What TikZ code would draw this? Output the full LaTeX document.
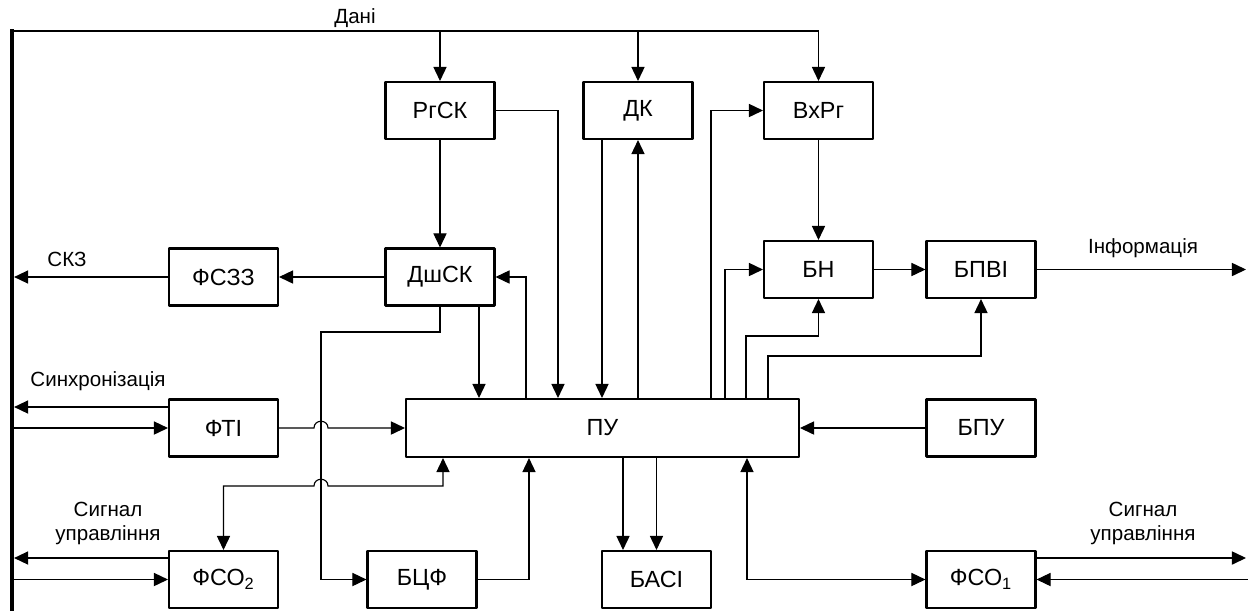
\documentclass[tikz,border=0pt]{standalone}
\usepackage{fontspec}
\setmainfont{Liberation Sans}
\usetikzlibrary{arrows.meta}
\tikzset{
  blk/.style={draw,line width=1.2pt,line join=round,minimum width=2.18cm,minimum height=1.14cm,inner sep=0pt,font=\fontsize{13.3}{15}\selectfont},
  conn/.style={line width=0.65pt},
  arr/.style={conn,-{Triangle[length=8pt,width=7.5pt]}},
  darr/.style={conn,{Triangle[length=8pt,width=7.5pt]}-{Triangle[length=8pt,width=7.5pt]}},
  lbl/.style={font=\fontsize{11.7}{13.6}\selectfont,align=center},
  bus/.style={line width=2.4pt,line cap=rect}
}

\begin{document}
\begin{tikzpicture}[x=0.02cm,y=-0.02cm]
  \useasboundingbox (0,0) rectangle (1248,610);
  \coordinate (bustop) at (12,31);
  \coordinate (busbot) at (12,610);
  \draw[bus] (bustop) -- (busbot);

  \node[blk] (rgsk) at (440,110.5) {РгСК};
  \node[blk] (dk) at (638,110.5) {ДК};
  \node[blk] (vxrg) at (818.5,110.5) {ВхРг};
  \node[blk] (fszz) at (223.5,277) {ФСЗЗ};
  \node[blk] (dshsk) at (440,277) {ДшСК};
  \node[blk] (bn) at (818.5,269.5) {БН};
  \node[blk] (bpvi) at (981,269.5) {БПВІ};
  \node[blk] (fti) at (223.5,428) {ФТІ};
  \node[blk,minimum width=7.86cm,minimum height=1.16cm] (pu) at (602.5,428) {ПУ};
  \node[blk] (bpu) at (981,428) {БПУ};
  \node[blk] (fso2) at (223.5,579.5) {ФСО\textsubscript{2}};
  \node[blk] (bcf) at (422,579.5) {БЦФ};
  \node[blk] (basi) at (656.5,579.5) {БАСІ};
  \node[blk] (fso1) at (981,579.5) {ФСО\textsubscript{1}};

  % data line
  \draw[arr] (bustop) -| (vxrg.north);
  \draw[arr] (rgsk.north |- bustop) -- (rgsk.north);
  \draw[arr] (dk.north |- bustop) -- (dk.north);
  \node[lbl] (dani) at (355,18) {Дані};

  \draw[arr] (rgsk.south) -- (dshsk.north);
  \draw[arr] (rgsk.east) -| (pu.north -| 558,0);
  \draw[arr] (dk.south -| 602,0) -- (pu.north -| 602,0);
  \draw[arr] (pu.north -| dk.south) -- (dk.south);
  \draw[arr] (pu.north -| 711,0) |- (vxrg.west);
  \draw[arr] (vxrg.south) -- (bn.north);
  \draw[arr] (pu.north -| 725,0) |- (bn.west);
  \draw[arr] (pu.north -| 746,0) -- (746,336) -| (bn.south);
  \draw[arr] (pu.north -| 768,0) -- (768,356) -| (bpvi.south);
  \draw[arr] (bn.east) -- (bpvi.west);
  \coordinate (infout) at (1246,269.5);
  \draw[arr] (bpvi.east) -- (infout);
  \node[lbl] (info) at (1143,248) {Інформація};

  \draw[arr] (dshsk.west) -- (fszz.east);
  \draw[arr,shorten >=1.2pt] (fszz.west) -- (fszz.west -| bustop);
  \node[lbl] (skz) at (67,259) {СКЗ};
  \draw[arr] (pu.north -| 526,0) |- (dshsk.east);
  \draw[arr] (dshsk.south -| 479,0) -- (pu.north -| 479,0);
  \draw[arr] (dshsk.south) |- (321,332) |- (bcf.west);

  % synchronisation
  \draw[arr,shorten >=1.2pt] (fti.west |- 0,407) -- (bustop |- 0,407);
  \draw[arr] (fti.west -| bustop) -- (fti.west);
  \node[lbl] (sync) at (98,381) {Синхронізація};
  \draw[arr] (fti.east) -- (314,428) .. controls (314,419) and (328,419) .. (328,428) -- (pu.west);

  % control signals
  \draw[darr] (pu.south -| 443,0) -- (443,486) -- (328,486) .. controls (328,477) and (314,477) .. (314,486) -| (fso2.north);
  \draw[arr,shorten >=1.2pt] (fso2.west |- 0,558) -- (bustop |- 0,558);
  \draw[arr] (fso2.west -| bustop) -- (fso2.west);
  \node[lbl] (sigl) at (108,523) {Сигнал\\управління};

  \draw[arr] (bcf.east) -| (pu.south -| 529,0);
  \draw[arr] (pu.south -| 623,0) -- (basi.north -| 623,0);
  \draw[arr] (pu.south -| basi.north) -- (basi.north);
  \draw[darr] (pu.south -| 747,0) |- (fso1.west);
  \draw[arr] (bpu.west) -- (pu.east);
  \coordinate (sigout) at (1246,558);
  \coordinate (sigin) at (1248,579.5);
  \draw[arr] (fso1.east |- sigout) -- (sigout);
  \draw[arr] (sigin) -- (fso1.east);
  \node[lbl] (sigr) at (1143,523) {Сигнал\\управління};
\end{tikzpicture}
\end{document}
